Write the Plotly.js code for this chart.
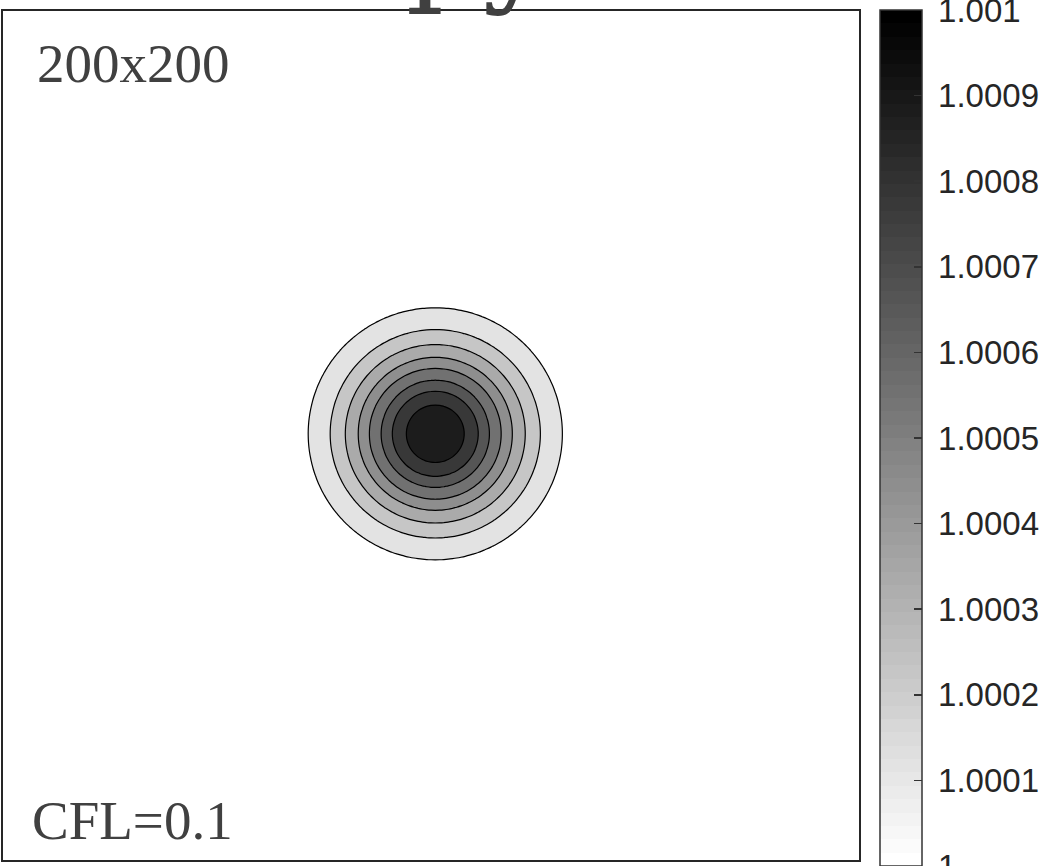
<!DOCTYPE html>
<html>
<head>
<meta charset="utf-8">
<script src="https://cdn.plot.ly/plotly-3.0.1.min.js"></script>
<style>html,body{margin:0;padding:0;background:#fff;}#chart{width:1050px;height:866px;}</style>
</head>
<body>
<div id="chart"></div>
<script>
// ---- data ----
// contour levels of the field
var contourLevels = [1.0001, 1.0002, 1.0003, 1.0004, 1.0005, 1.0006, 1.0007, 1.0008];
// radial profile of the pulse: radius (x-axis units) and the field value there
var profileRadius = [0, 0.0339, 0.0502, 0.0631, 0.0771, 0.0900, 0.1051, 0.1227, 0.1484, 0.20, 0.25, 0.35];
var profileValue  = [1.00089, 1.0008, 1.0007, 1.0006, 1.0005, 1.0004, 1.0003, 1.0002, 1.0001, 1.0000167, 1.0000018, 1.0000000045];
var backgroundValue = 1.0;
var pulseCenter = [0.505, 0.502];
var gridCells = 200;
// colour bar
var colorbarTickVals = [1, 1.0001, 1.0002, 1.0003, 1.0004, 1.0005, 1.0006, 1.0007, 1.0008, 1.0009, 1.001];
var colorbarTickText = ['1', '1.0001', '1.0002', '1.0003', '1.0004', '1.0005', '1.0006', '1.0007', '1.0008', '1.0009', '1.001'];
var colorRange = [1, 1.001];
var colormapSteps = 64;
var titleText = 'Entropy';
var gridLabel = '200x200';
var cflLabel = 'CFL=0.1';

// ---- build the field from the radial profile (log-linear in r^2 between read points) ----
function profileAt(r) {
  var n = profileRadius.length;
  if (r >= profileRadius[n - 1]) return backgroundValue;
  for (var k = 0; k < n - 1; k++) {
    var r0 = profileRadius[k], r1 = profileRadius[k + 1];
    if (r <= r1) {
      var t = (r * r - r0 * r0) / (r1 * r1 - r0 * r0);
      var a = Math.log(profileValue[k] - backgroundValue);
      var b = Math.log(profileValue[k + 1] - backgroundValue);
      return backgroundValue + Math.exp(a + t * (b - a));
    }
  }
  return backgroundValue;
}
var xs = [], ys = [], zs = [];
for (var i = 0; i <= gridCells; i++) { xs.push(i / gridCells); ys.push(i / gridCells); }
for (var j = 0; j <= gridCells; j++) {
  var row = [];
  for (var i2 = 0; i2 <= gridCells; i2++) {
    var dx = xs[i2] - pulseCenter[0], dy = ys[j] - pulseCenter[1];
    row.push(profileAt(Math.sqrt(dx * dx + dy * dy)));
  }
  zs.push(row);
}

// stepped gray colormap for the colour bar (white -> black)
var barScale = [];
for (var s = 0; s < colormapSteps; s++) {
  var g = Math.round(255 * (1 - s / (colormapSteps - 1)));
  var c = 'rgb(' + g + ',' + g + ',' + g + ')';
  barScale.push([s / colormapSteps, c]);
  barScale.push([(s + 1) / colormapSteps, c]);
}

var contourTrace = {
  type: 'contour',
  x: xs, y: ys, z: zs,
  autocontour: false,
  contours: {
    start: contourLevels[0],
    end: contourLevels[contourLevels.length - 1],
    size: contourLevels[1] - contourLevels[0],
    coloring: 'fill',
    showlines: true
  },
  line: {color: '#000000', width: 1.2, smoothing: 1},
  colorscale: [[0, 'rgb(255,255,255)'], [1, 'rgb(28,28,28)']],
  showscale: false,
  hoverinfo: 'skip'
};

var barTrace = {
  type: 'heatmap',
  x: [5, 6], y: [5],
  z: [[colorRange[0], colorRange[1]]],
  zmin: colorRange[0], zmax: colorRange[1],
  colorscale: barScale,
  hoverinfo: 'skip',
  showscale: true,
  colorbar: {
    xref: 'container', x: 880 / 1050, xanchor: 'left', xpad: 0,
    yref: 'paper', y: (860 - 866) / 849, yanchor: 'bottom', ypad: 0,
    lenmode: 'pixels', len: 856,
    thicknessmode: 'pixels', thickness: 42,
    outlinewidth: 1.5, outlinecolor: '#333333',
    tickmode: 'array', tickvals: colorbarTickVals,
    ticktext: colorbarTickText.map(function (t) { return '\u2005' + t; }),
    ticklabeloverflow: 'allow',
    ticks: 'inside', ticklen: 8, tickwidth: 1.5, tickcolor: '#333333',
    tickfont: {family: 'Liberation Sans, Arial, sans-serif', size: 33, color: '#262626'}
  }
};

var axisStyle = {
  range: [0, 1], showline: true, mirror: true, linewidth: 2, linecolor: '#262626',
  showgrid: false, zeroline: false, showticklabels: false, ticks: '', fixedrange: true
};

var layout = {
  width: 1050, height: 866,
  margin: {l: 3, r: 191, t: 11, b: 6, pad: 0},
  paper_bgcolor: '#ffffff', plot_bgcolor: '#ffffff',
  showlegend: false,
  title: {
    text: titleText,
    font: {family: 'DejaVu Serif, serif', size: 120, color: '#404040'},
    xref: 'container', x: 63 / 1050, xanchor: 'left',
    yref: 'container', y: 1, yanchor: 'bottom',
    pad: {b: 11, t: 0, l: 0, r: 0}
  },
  xaxis: Object.assign({}, axisStyle),
  yaxis: Object.assign({}, axisStyle),
  annotations: [
    {text: gridLabel, xref: 'paper', yref: 'paper', x: 0.0374, y: 0.9376, xanchor: 'left', yanchor: 'middle',
     showarrow: false, font: {family: 'Liberation Serif, Times New Roman, serif', size: 55, color: '#404040'}},
    {text: cflLabel, xref: 'paper', yref: 'paper', x: 0.0315, y: 0.046, xanchor: 'left', yanchor: 'middle',
     showarrow: false, font: {family: 'Liberation Serif, Times New Roman, serif', size: 55, color: '#404040'}}
  ]
};

Plotly.newPlot('chart', [contourTrace, barTrace], layout, {displayModeBar: false, staticPlot: true});
</script>
</body>
</html>
